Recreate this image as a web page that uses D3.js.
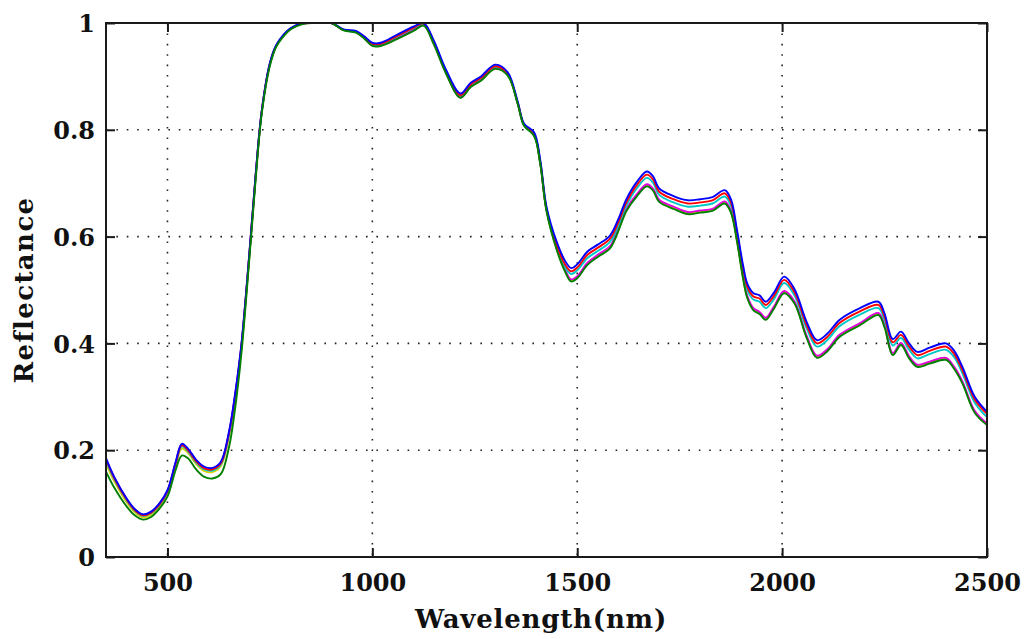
<!DOCTYPE html>
<html>
<head>
<meta charset="utf-8">
<script src="https://cdn.jsdelivr.net/npm/d3@7"></script>
<style>
  html, body { margin: 0; padding: 0; background: #fff; }
  svg { display: block; }
  .lbl { font-family: "DejaVu Serif", serif; font-weight: bold; fill: #111; }
</style>
</head>
<body>
<svg id="chart" width="1027" height="639"></svg>
<script>
// ---- data ----
const wavelengths = [350,370,400,420,440,460,480,500,520,535,550,570,590,610,630,650,665,680,700,715,730,750,765,780,800,830,860,900,930,960,980,1000,1020,1060,1100,1125,1150,1180,1215,1240,1265,1300,1330,1355,1370,1395,1410,1425,1450,1470,1485,1500,1525,1550,1580,1600,1620,1645,1670,1685,1700,1735,1770,1800,1830,1860,1875,1890,1905,1915,1930,1945,1960,1980,2005,2030,2060,2085,2110,2140,2190,2235,2250,2270,2290,2310,2330,2360,2400,2420,2440,2470,2500];

const blueSeries = [0.185,0.150,0.110,0.090,0.080,0.085,0.100,0.125,0.178,0.212,
0.203,0.182,0.169,0.167,0.178,0.234,0.305,0.395,0.570,0.714,
0.835,0.925,0.958,0.975,0.990,1.0,1.0,1.0,0.988,0.985,
0.975,0.963,0.963,0.978,0.993,1.0,0.967,0.912,0.868,0.888,
0.900,0.922,0.908,0.852,0.812,0.795,0.742,0.656,0.590,0.555,
0.541,0.548,0.572,0.585,0.602,0.632,0.670,0.702,0.722,0.713,
0.690,0.676,0.668,0.670,0.674,0.687,0.670,0.612,0.545,0.512,
0.494,0.490,0.478,0.495,0.525,0.502,0.440,0.406,0.418,0.444,
0.466,0.478,0.456,0.408,0.422,0.400,0.384,0.392,0.400,0.386,
0.356,0.300,0.272];

const redSeries = [0.183,0.148,0.108,0.088,0.078,0.083,0.098,0.123,0.175,0.209,
0.200,0.179,0.166,0.164,0.175,0.231,0.301,0.392,0.568,0.712,
0.834,0.924,0.957,0.974,0.989,1.0,1.0,1.0,0.987,0.984,
0.974,0.961,0.961,0.976,0.991,0.999,0.965,0.909,0.865,0.885,
0.897,0.919,0.905,0.849,0.809,0.791,0.737,0.651,0.584,0.548,
0.535,0.542,0.566,0.579,0.596,0.626,0.664,0.696,0.716,0.707,
0.684,0.670,0.662,0.664,0.668,0.681,0.664,0.606,0.539,0.506,
0.488,0.484,0.472,0.489,0.519,0.496,0.434,0.400,0.412,0.438,
0.460,0.472,0.450,0.402,0.416,0.394,0.378,0.386,0.394,0.380,
0.350,0.295,0.268];

const cyanSeries = [0.180,0.146,0.107,0.087,0.077,0.082,0.097,0.122,0.174,0.207,
0.198,0.177,0.164,0.162,0.173,0.229,0.299,0.390,0.566,0.711,
0.833,0.923,0.957,0.974,0.989,1.0,1.0,1.0,0.987,0.983,
0.973,0.960,0.960,0.975,0.990,0.998,0.964,0.908,0.864,0.884,
0.896,0.918,0.904,0.848,0.808,0.790,0.736,0.650,0.580,0.543,
0.530,0.537,0.560,0.573,0.590,0.620,0.658,0.690,0.710,0.701,
0.678,0.664,0.656,0.658,0.662,0.675,0.658,0.600,0.533,0.500,
0.482,0.478,0.466,0.483,0.513,0.490,0.428,0.394,0.406,0.432,
0.454,0.466,0.444,0.396,0.410,0.388,0.372,0.380,0.388,0.374,
0.344,0.289,0.262];

const magentaSeries = [0.182,0.149,0.109,0.089,0.079,0.084,0.099,0.124,0.177,0.211,
0.202,0.181,0.168,0.166,0.177,0.232,0.303,0.393,0.569,0.713,
0.834,0.924,0.957,0.974,0.989,0.999,1.0,1.0,0.987,0.983,
0.972,0.958,0.958,0.972,0.987,0.997,0.962,0.906,0.861,0.881,
0.894,0.916,0.904,0.850,0.810,0.790,0.737,0.650,0.578,0.539,
0.520,0.526,0.551,0.566,0.582,0.614,0.652,0.679,0.698,0.690,
0.669,0.656,0.646,0.649,0.652,0.666,0.649,0.594,0.524,0.489,
0.466,0.459,0.448,0.469,0.498,0.479,0.414,0.377,0.389,0.416,
0.438,0.457,0.434,0.382,0.401,0.376,0.360,0.366,0.373,0.356,
0.329,0.274,0.250];

const yellowSeries = [0.175,0.142,0.103,0.084,0.074,0.079,0.094,0.119,0.171,0.203,
0.195,0.174,0.161,0.159,0.170,0.225,0.294,0.386,0.565,0.710,
0.833,0.923,0.956,0.973,0.989,0.999,1.0,1.0,0.987,0.983,
0.972,0.958,0.958,0.971,0.986,0.996,0.961,0.906,0.861,0.881,
0.893,0.915,0.903,0.849,0.809,0.789,0.736,0.649,0.577,0.537,
0.518,0.524,0.549,0.564,0.580,0.612,0.650,0.677,0.696,0.688,
0.667,0.654,0.644,0.647,0.650,0.664,0.647,0.592,0.522,0.487,
0.464,0.457,0.446,0.467,0.496,0.477,0.412,0.375,0.387,0.414,
0.436,0.455,0.432,0.380,0.399,0.374,0.358,0.364,0.371,0.354,
0.327,0.272,0.249];

const greenSeries = [0.160,0.130,0.095,0.078,0.070,0.075,0.090,0.113,0.163,0.190,
0.185,0.164,0.150,0.147,0.155,0.205,0.278,0.378,0.560,0.705,
0.830,0.920,0.955,0.972,0.988,0.998,1.0,1.0,0.986,0.982,
0.971,0.957,0.957,0.970,0.985,0.995,0.960,0.905,0.860,0.880,
0.892,0.914,0.902,0.848,0.808,0.788,0.735,0.648,0.575,0.535,
0.516,0.522,0.547,0.562,0.578,0.610,0.648,0.675,0.694,0.686,
0.665,0.652,0.642,0.645,0.648,0.662,0.645,0.590,0.520,0.485,
0.462,0.455,0.444,0.465,0.494,0.475,0.410,0.373,0.385,0.412,
0.434,0.453,0.430,0.378,0.397,0.372,0.356,0.362,0.369,0.352,
0.325,0.270,0.247];

const seriesList = [
  {name: "yellow",  values: yellowSeries,  color: "#d4d400"},
  {name: "magenta", values: magentaSeries, color: "#e000e0"},
  {name: "cyan",    values: cyanSeries,    color: "#00c8c8"},
  {name: "red",     values: redSeries,     color: "#ff0000"},
  {name: "blue",    values: blueSeries,    color: "#0000ff"},
  {name: "green",   values: greenSeries,   color: "#008000"}
];

const xTicks = [500, 1000, 1500, 2000, 2500];
const yTicks = [0, 0.2, 0.4, 0.6, 0.8, 1];
const yTickLabels = ["0", "0.2", "0.4", "0.6", "0.8", "1"];
const xTitle = "Wavelength(nm)";
const yTitle = "Reflectance";

// ---- layout ----
const L = 106, R = 987, T = 23, B = 557;
const svg = d3.select("#chart");
const x = d3.scaleLinear().domain([350, 2500]).range([L, R]);
const y = d3.scaleLinear().domain([0, 1]).range([B, T]);

svg.append("rect").attr("width", 1027).attr("height", 639).attr("fill", "#fff");

// grid
const grid = svg.append("g").attr("stroke", "#222").attr("stroke-width", 1.6)
  .attr("stroke-dasharray", "1.6 8.8").attr("fill", "none");
xTicks.filter(t => t < 2500).forEach(t => {
  grid.append("line").attr("x1", x(t)).attr("x2", x(t)).attr("y1", T).attr("y2", B);
});
yTicks.filter(t => t > 0 && t < 1).forEach(t => {
  grid.append("line").attr("x1", L).attr("x2", R).attr("y1", y(t)).attr("y2", y(t));
});

// clip
svg.append("clipPath").attr("id", "clip").append("rect")
  .attr("x", L).attr("y", T).attr("width", R - L).attr("height", B - T);

const line = d3.line()
  .x((d, i) => x(wavelengths[i]))
  .y(d => y(d))
  .curve(d3.curveCatmullRom.alpha(0.5));

const lines = svg.append("g").attr("clip-path", "url(#clip)");
seriesList.forEach(s => {
  lines.append("path")
    .datum(s.values)
    .attr("d", line)
    .attr("fill", "none")
    .attr("stroke", s.color)
    .attr("stroke-width", 1.9)
    .attr("stroke-linejoin", "round");
});

// frame
svg.append("rect").attr("x", L).attr("y", T).attr("width", R - L).attr("height", B - T)
  .attr("fill", "none").attr("stroke", "#1a1a1a").attr("stroke-width", 2);

// inward ticks via axes
const tickLen = 9;
const axB = d3.axisBottom(x).tickValues(xTicks).tickSize(-tickLen).tickFormat(d3.format("d"));
const gB = svg.append("g").attr("transform", `translate(0,${B})`).call(axB);
const axT = d3.axisTop(x).tickValues(xTicks).tickSize(-tickLen).tickFormat("");
const gT = svg.append("g").attr("transform", `translate(0,${T})`).call(axT);
const axLft = d3.axisLeft(y).tickValues(yTicks).tickSize(-tickLen)
  .tickFormat((d, i) => yTickLabels[i]);
const gL = svg.append("g").attr("transform", `translate(${L},0)`).call(axLft);
const axRt = d3.axisRight(y).tickValues(yTicks).tickSize(-tickLen).tickFormat("");
const gR = svg.append("g").attr("transform", `translate(${R},0)`).call(axRt);

[gB, gT, gL, gR].forEach(g => {
  g.select(".domain").remove();
  g.selectAll(".tick line").attr("stroke", "#1a1a1a").attr("stroke-width", 2);
  g.selectAll("text").attr("class", "lbl").style("font-size", "24px").attr("fill", "#111");
});
gB.selectAll("text").attr("dy", "0.71em").attr("y", 17);
gL.selectAll("text").attr("x", -11).attr("dy", "0.36em");

// titles
svg.append("text").attr("class", "lbl")
  .attr("x", 541).attr("y", 628)
  .attr("text-anchor", "middle")
  .style("font-size", "26px")
  .style("letter-spacing", "0.8px")
  .text(xTitle);

svg.append("text").attr("class", "lbl")
  .attr("transform", `translate(33,${(T + B) / 2}) rotate(-90)`)
  .attr("text-anchor", "middle")
  .style("font-size", "26px")
  .style("letter-spacing", "1.4px")
  .text(yTitle);
</script>
</body>
</html>
